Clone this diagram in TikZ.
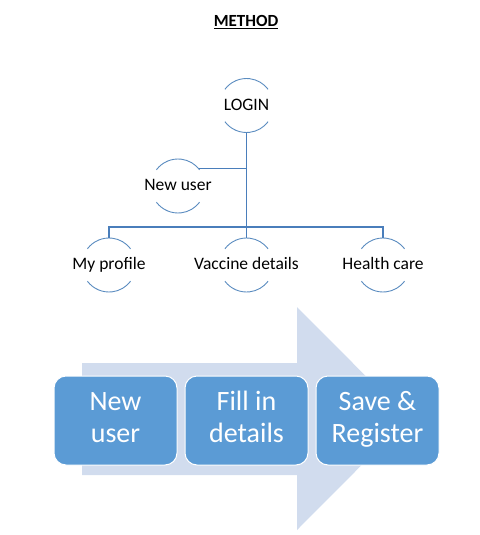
\documentclass[tikz,border=0pt]{standalone}
\usepackage{fontspec}
\setmainfont{Carlito}
\usepackage{xcolor}
\usepackage{tikz}
\usetikzlibrary{calc,positioning}
\definecolor{treeblue}{HTML}{4A7EBB}
\definecolor{arcblue}{HTML}{5B8CC0}
\definecolor{boxblue}{HTML}{5B9BD5}
\definecolor{arrowblue}{HTML}{D1DCEE}
\tikzset{
  tree/.style={draw=treeblue, line width=1.4pt},
  arcl/.style={draw=arcblue, line width=0.9pt},
  lab/.style={text=black, font=\fontsize{17.5}{20}\selectfont, inner sep=0pt,
    text height=12.5pt, text depth=3.5pt},
  stepbox/.style={fill=boxblue, draw=white, line width=1pt, rounded corners=12pt,
    minimum width=123pt, minimum height=89pt, inner sep=0pt, align=center,
    text=white, font=\fontsize{28}{32}\selectfont},
}
\newcommand{\bubble}[1]{%
  \draw[arcl] ([shift={(-143:27)}]#1.center) arc[start angle=-143, end angle=-37, radius=27];
  \draw[arcl] ([shift={(143:27)}]#1.center) arc[start angle=143, end angle=37, radius=27];
}

\begin{document}
\begin{tikzpicture}[x=1pt, y=-1pt]
\useasboundingbox (0,0) rectangle (479,535);
\node[font=\bfseries\fontsize{17}{20}\selectfont] (title) at (246,22) {\underline{METHOD}};

% tree
\node[lab] (login) at (246.5,105.5) {LOGIN};
\node[lab] (newuser) at (178,186) {New user};
\foreach \n/\x/\t in {profile/109/{My profile},vaccine/246.5/{Vaccine details},health/383/{Health care}}{
  \node[lab] (\n) at (\x,265) {\t};
}
\foreach \n in {login,newuser,profile,vaccine,health}{\bubble{\n}}
\coordinate (nu) at ([shift={(-40:27)}]newuser.center);
\coordinate (bar) at (246.5,227);
\draw[tree] ([yshift=-27pt]login.center) -- ([yshift=27pt]vaccine.center);
\draw[tree] (nu) -- (nu -| login.center);
\draw[tree] ([yshift=27pt]profile.center) |- (bar) -| ([yshift=27pt]health.center);

% process
\fill[arrowblue] (82,363) -- (297,363) -- (297,307) -- (408,418.5) -- (297,530)
  -- (297,475) -- (82,475) -- cycle;
\node[stepbox] (s1) at (115.5,420.5) {\strut New\\\strut user};
\node[stepbox, right=7pt of s1] (s2) {\strut Fill in\\\strut details};
\node[stepbox, right=7pt of s2] (s3) {\strut Save \&\\\strut Register};
\end{tikzpicture}
\end{document}
